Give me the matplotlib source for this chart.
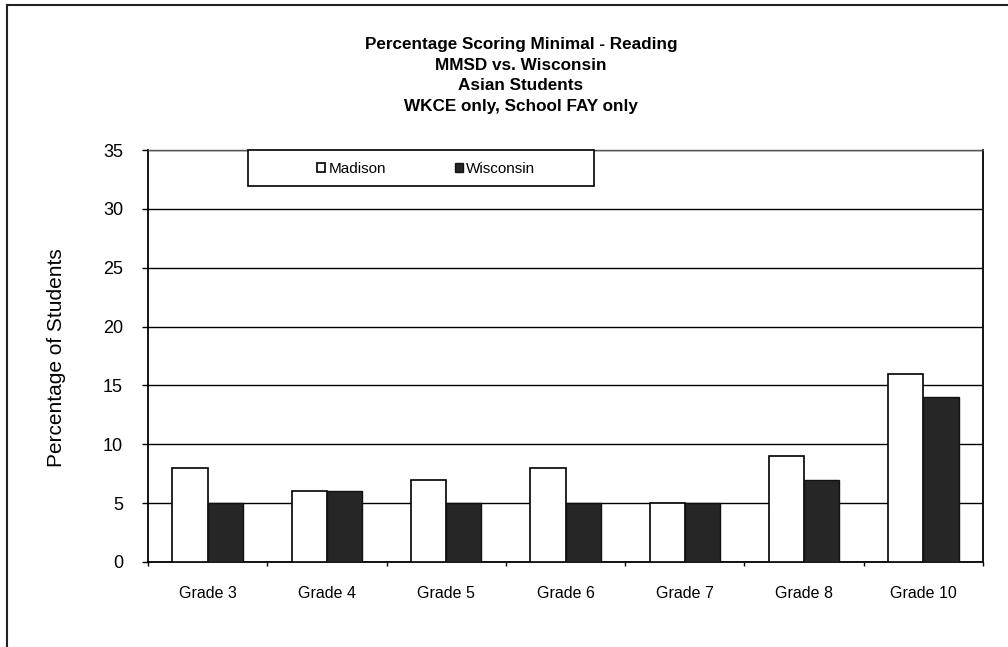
import numpy as np
import matplotlib.pyplot as plt
from matplotlib.patches import Rectangle
from matplotlib.lines import Line2D

plt.rcParams['font.family'] = ['Liberation Sans', 'DejaVu Sans']

grades = ['Grade 3', 'Grade 4', 'Grade 5', 'Grade 6', 'Grade 7', 'Grade 8', 'Grade 10']
madison = [8, 6, 7, 8, 5, 9, 16]
wisconsin = [5, 6, 5, 5, 5, 7, 14]
yticks = [0, 5, 10, 15, 20, 25, 30, 35]
title_lines = ['Percentage Scoring Minimal - Reading', 'MMSD vs. Wisconsin',
               'Asian Students', 'WKCE only, School FAY only']

W, H = 1008, 647
fig = plt.figure(figsize=(W / 100, H / 100), dpi=100)
ax = fig.add_axes([148 / W, 1 - 562 / H, (983 - 148) / W, (562 - 150) / H])

x = np.arange(len(grades))
bw = 0.295
ax.bar(x - bw / 2, madison, bw, color='white', edgecolor='black', linewidth=1.2,
       label='Madison', zorder=3)
ax.bar(x + bw / 2, wisconsin, bw, color='#262626', edgecolor='#111111', linewidth=1.0,
       label='Wisconsin', zorder=3)

ax.set_xlim(-0.5, len(grades) - 0.5)
ax.set_ylim(0, 35)
ax.set_yticks(yticks)
ax.yaxis.grid(True, color='black', linewidth=1.0, zorder=0)
ax.set_axisbelow(True)

ax.set_xticks(np.arange(-0.5, len(grades), 1.0))
ax.set_xticklabels([])
ax.set_xticks(x, minor=True)
ax.set_xticklabels(grades, minor=True)
ax.tick_params(axis='x', which='major', direction='out', length=3, width=1, color='black')
ax.tick_params(axis='x', which='minor', length=0, pad=17, labelsize=11.5)
ax.tick_params(axis='y', direction='out', length=4, width=1, pad=14, labelsize=13)

for s in ['left', 'bottom', 'right']:
    ax.spines[s].set_color('black')
    ax.spines[s].set_linewidth(1.3)
ax.spines['top'].set_color('#555555')
ax.spines['top'].set_linewidth(1.0)
ax.spines['top'].set_linestyle((0, (1, 1)))

fig.text(57 / W, 1 - 358 / H, 'Percentage of Students', rotation=90, fontsize=15,
         ha='center', va='center')

for i, line in enumerate(title_lines):
    fig.text(521 / W, 1 - (45 + 20.4 * i) / H, line, fontsize=12.3, fontweight='bold',
             ha='center', va='center')

# legend
fig.patches.append(Rectangle((248 / W, 1 - 186 / H), (594 - 248) / W, 36 / H,
                             transform=fig.transFigure, facecolor='white',
                             edgecolor='black', linewidth=1.2, zorder=5))
leg = fig.legend(loc='center', bbox_to_anchor=(426 / W, 1 - 169 / H), ncol=2,
                 frameon=False, fontsize=11, handlelength=0.55, handleheight=0.55,
                 handletextpad=0.2, columnspacing=4.5, borderpad=0, borderaxespad=0)
leg.set_zorder(6)

# outer border
fig.lines.append(Line2D([7 / W, 7 / W], [0, 1 - 5 / H], transform=fig.transFigure,
                        color='#222222', linewidth=1.5))
fig.lines.append(Line2D([7 / W, 1], [1 - 5 / H, 1 - 5 / H], transform=fig.transFigure,
                        color='#222222', linewidth=1.5))

fig.savefig('out.png', dpi=100)
